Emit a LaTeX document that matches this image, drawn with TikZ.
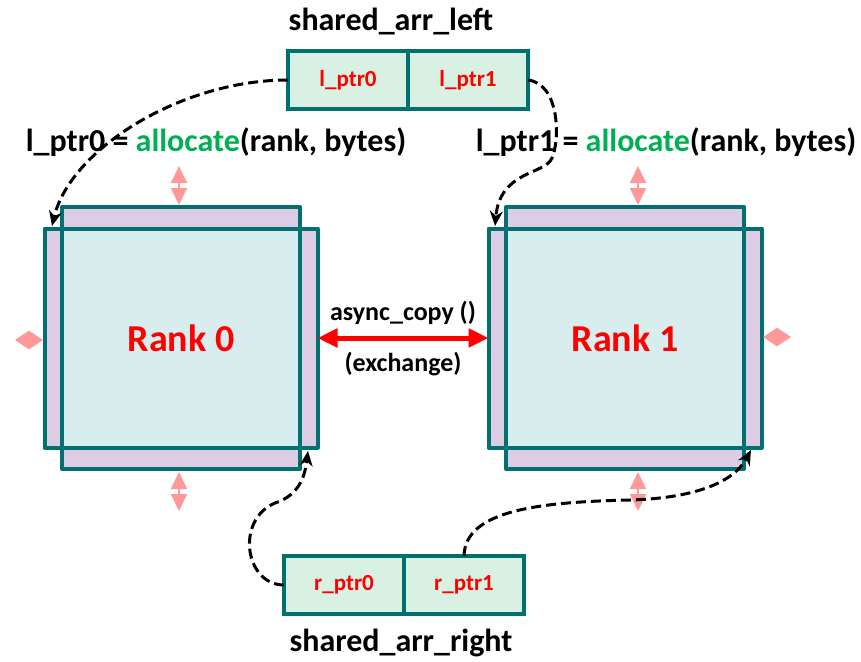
\documentclass[tikz,border=0pt]{standalone}
\usepackage{fontspec}
\setsansfont{Carlito}
\usepackage{tikz}
\usetikzlibrary{arrows.meta, positioning}
\definecolor{rankteal}{RGB}{0,112,112}
\definecolor{ranklilac}{RGB}{220,205,228}
\definecolor{rankcyan}{RGB}{216,237,238}
\definecolor{cellgreen}{RGB}{216,241,227}
\definecolor{allocgreen}{RGB}{0,176,80}
\definecolor{stretchpink}{RGB}{255,153,153}
\tikzset{every picture/.style={/utils/exec={\sffamily\bfseries}}}
\tikzset{
  halo/.style={fill=ranklilac, inner sep=0pt, outer sep=0pt},
  widehalo/.style={halo, minimum width=273pt, minimum height=219pt},
  tallhalo/.style={halo, minimum width=238pt, minimum height=262pt},
  core/.style={fill=rankcyan, inner sep=0pt, outer sep=0pt, minimum width=238pt, minimum height=219pt, text=red, font=\fontsize{38}{40}\selectfont},
  rankline/.style={draw=rankteal, line width=4pt, line join=round},
  cell/.style={draw=rankteal, line width=4pt, fill=cellgreen, minimum width=120pt, minimum height=58pt, inner sep=0pt, outer sep=0pt, text=red, font=\fontsize{23}{25}\selectfont},
  title/.style={font=\fontsize{32}{34}\selectfont},
  talk/.style={black, font=\fontsize{26}{28}\selectfont},
  ptrlink/.style={-{Stealth[length=15pt, width=13pt]}, line width=3pt, dash pattern=on 10pt off 5pt},
  stretch/.style={stretchpink, line width=2pt, {Triangle[length=17pt, width=16pt]}-{Triangle[length=17pt, width=16pt]}},
  spread/.style={stretchpink, line width=2pt, {Triangle[length=14pt, width=18pt]}-{Triangle[length=14pt, width=18pt]}},
  swap/.style={red, line width=5pt, {Triangle[length=20pt, width=18pt]}-{Triangle[length=20pt, width=18pt]}}
}

\begin{document}
\begin{tikzpicture}[x=1pt, y=-1pt]
        \useasboundingbox (0,0) rectangle (861,661);

        % Ranks
        \node[widehalo] (r0w) at (181,338) {};
        \node[tallhalo] (r0t) at (181,338) {};
        \node[core] (r0c) at (181,338) {Rank 0};
        \draw[rankline] (r0w.south west) rectangle (r0w.north east);
        \draw[rankline] (r0t.south west) rectangle (r0t.north east);

        \node[widehalo] (r1w) at (625,338) {};
        \node[tallhalo] (r1t) at (625,338) {};
        \node[core] (r1c) at (625,338) {Rank 1};
        \draw[rankline] (r1w.south west) rectangle (r1w.north east);
        \draw[rankline] (r1t.south west) rectangle (r1t.north east);

        % Shared arrays
        \node[cell] (lp0) at (348,80) {l\_ptr0};
        \node[cell, right=0pt of lp0] (lp1) {l\_ptr1};
        \node[title] (sal) at (391,22) {shared\_arr\_left};

        \node[cell] (rp0) at (344,585) {r\_ptr0};
        \node[cell, right=0pt of rp0] (rp1) {r\_ptr1};
        \node[title] (sar) at (401,643) {shared\_arr\_right};

        % Allocation calls
        \node[title] (al0) at (216,142) {l\_ptr0 = \textcolor{allocgreen}{allocate}(rank, bytes)};
        \node[title] (al1) at (666,142) {l\_ptr1 = \textcolor{allocgreen}{allocate}(rank, bytes)};

        % Halo growth
        \draw[stretch] (179,166) -- (179,205);
        \draw[stretch] (179,472) -- (179,511);
        \draw[spread] (15,340) -- (43,340);
        \draw[stretch] (638,166) -- (638,205);
        \draw[stretch] (638,472) -- (638,511);
        \draw[spread] (763,337) -- (791,337);

        % Exchange
        \draw[swap] (r0w.east) -- (r1w.west)
            node[midway, above=8pt, talk] {async\_copy ()}
            node[midway, below=8pt, talk] {(exchange)};

        % Pointer links
        \coordinate (t0) at (52,226);
        \coordinate (t1) at (495,226);
        \coordinate (b0) at (308,451);
        \coordinate (b1) at (751,450);
        \draw[ptrlink] (lp0.west) .. controls (180,80) and (70,150) .. (t0);
        \draw[ptrlink] (lp1.east) .. controls (560,84) and (560,140) .. (552,158)
            .. controls (545,175) and (500,170) .. (t1);
        \draw[ptrlink] (rp0.west) .. controls (245,585) and (235,520) .. (275,503)
            .. controls (300,495) and (305,475) .. (b0);
        \draw[ptrlink] (rp1.north) .. controls (465,510) and (540,502) .. (630,500)
            .. controls (700,498) and (735,480) .. (b1);
    \end{tikzpicture}
\end{document}
